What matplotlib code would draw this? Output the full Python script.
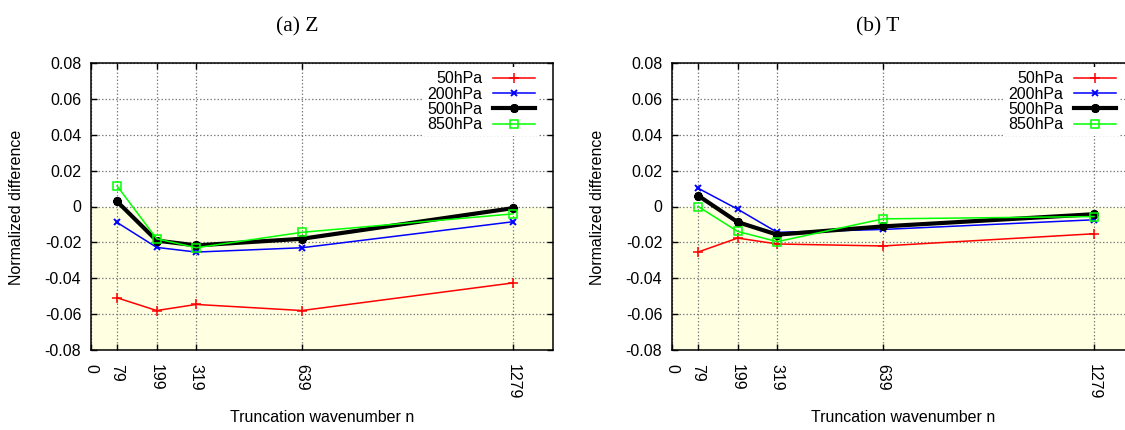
import matplotlib
matplotlib.use("Agg")
import matplotlib.pyplot as plt

# ---- data ----
wavenumbers = [79, 199, 319, 639, 1279]
levels = ["50hPa", "200hPa", "500hPa", "850hPa"]

z_50 = [-0.0509, -0.0580, -0.0546, -0.0580, -0.0426]
z_200 = [-0.0089, -0.0228, -0.0254, -0.0230, -0.0085]
z_500 = [0.0028, -0.0190, -0.0217, -0.0180, -0.0009]
z_850 = [0.0115, -0.0180, -0.0230, -0.0144, -0.0041]

t_50 = [-0.0254, -0.0176, -0.0209, -0.0220, -0.0152]
t_200 = [0.0102, -0.0015, -0.0144, -0.0128, -0.0074]
t_500 = [0.0061, -0.0087, -0.0157, -0.0111, -0.0043]
t_850 = [0.0000, -0.0139, -0.0196, -0.0069, -0.0056]

xtick_vals = [0, 79, 199, 319, 639, 1279]
xtick_labels = ["0", "79", "199", "319", "639", "1279"]
ytick_vals = [-0.08, -0.06, -0.04, -0.02, 0.0, 0.02, 0.04, 0.06, 0.08]
ytick_labels = ["-0.08", "-0.06", "-0.04", "-0.02", "0", "0.02", "0.04", "0.06", "0.08"]

panel_titles = ["(a) Z", "(b) T"]
xlabel = "Truncation wavenumber n"
ylabel = "Normalized difference"

plt.rcParams['font.family'] = ['Liberation Sans', 'DejaVu Sans']

W, H = 1125, 430
fig = plt.figure(figsize=(W / 100, H / 100), dpi=100)

styles = [
    dict(color="#ff0000", lw=1.1, marker="+", ms=6.5, mew=1.1),
    dict(color="#0000ff", lw=1.1, marker="x", ms=5, mew=1.4),
    dict(color="#000000", lw=3.0, marker=(6, 2, 0), ms=6, mew=2.8),
    dict(color="#00ff00", lw=1.1, marker="s", ms=5.5, mew=1.1, mfc="none"),
]

panels = [
    (91, [z_50, z_200, z_500, z_850], panel_titles[0]),
    (672, [t_50, t_200, t_500, t_850], panel_titles[1]),
]

ax_w = 553 - 91
ax_top, ax_bot = 63, 350
for left_px, series, title in panels:
    ax = fig.add_axes([left_px / W, 1 - ax_bot / H, ax_w / W, (ax_bot - ax_top) / H])
    ax.set_xlim(0, 1400)
    ax.set_ylim(-0.08, 0.08)
    ax.axhspan(-0.08, 0, xmin=0, xmax=1, color="#ffffe2", zorder=0.2, lw=0)
    ax.set_axisbelow(True)
    ax.grid(True, color="#808080", linestyle=(0, (1.2, 1.6)), lw=0.9)
    for lab, vals, st in zip(levels, series, styles):
        ax.plot(wavenumbers, vals, label=lab, zorder=3, **st)
    ax.set_xticks(xtick_vals)
    ax.set_xticklabels(xtick_labels, rotation=-90, va="top", ha="center")
    ax.set_yticks(ytick_vals)
    ax.set_yticklabels(ytick_labels)
    ax.tick_params(direction="in", length=4, width=1, top=True, right=True,
                   labelsize=11.5, colors="black")
    ax.tick_params(axis="y", pad=7)
    ax.tick_params(axis="x", pad=10)
    for sp in ax.spines.values():
        sp.set_linewidth(1.1)
    leg = ax.legend(loc="upper right", bbox_to_anchor=(1 - 11 / ax_w, 1 - 1 / 287),
                    markerfirst=False, fontsize=11.5,
                    frameon=True, facecolor="white", edgecolor="none", framealpha=1,
                    fancybox=False, handlelength=2.6, labelspacing=0.02,
                    borderpad=0.25, borderaxespad=0.2, handletextpad=0.7)
    leg.set_zorder(5)
    cx = left_px + ax_w / 2
    fig.text((left_px + 206) / W, 1 - 26.5 / H, title, family="Liberation Serif",
             fontsize=15.5, ha="center", va="center")
    fig.text(cx / W, 1 - 418 / H, xlabel, fontsize=11.5, ha="center", va="center")
    fig.text((left_px - 74) / W, 1 - 207 / H, ylabel, fontsize=11.5, rotation=90,
             ha="center", va="center")

fig.savefig("out.png", dpi=100)
